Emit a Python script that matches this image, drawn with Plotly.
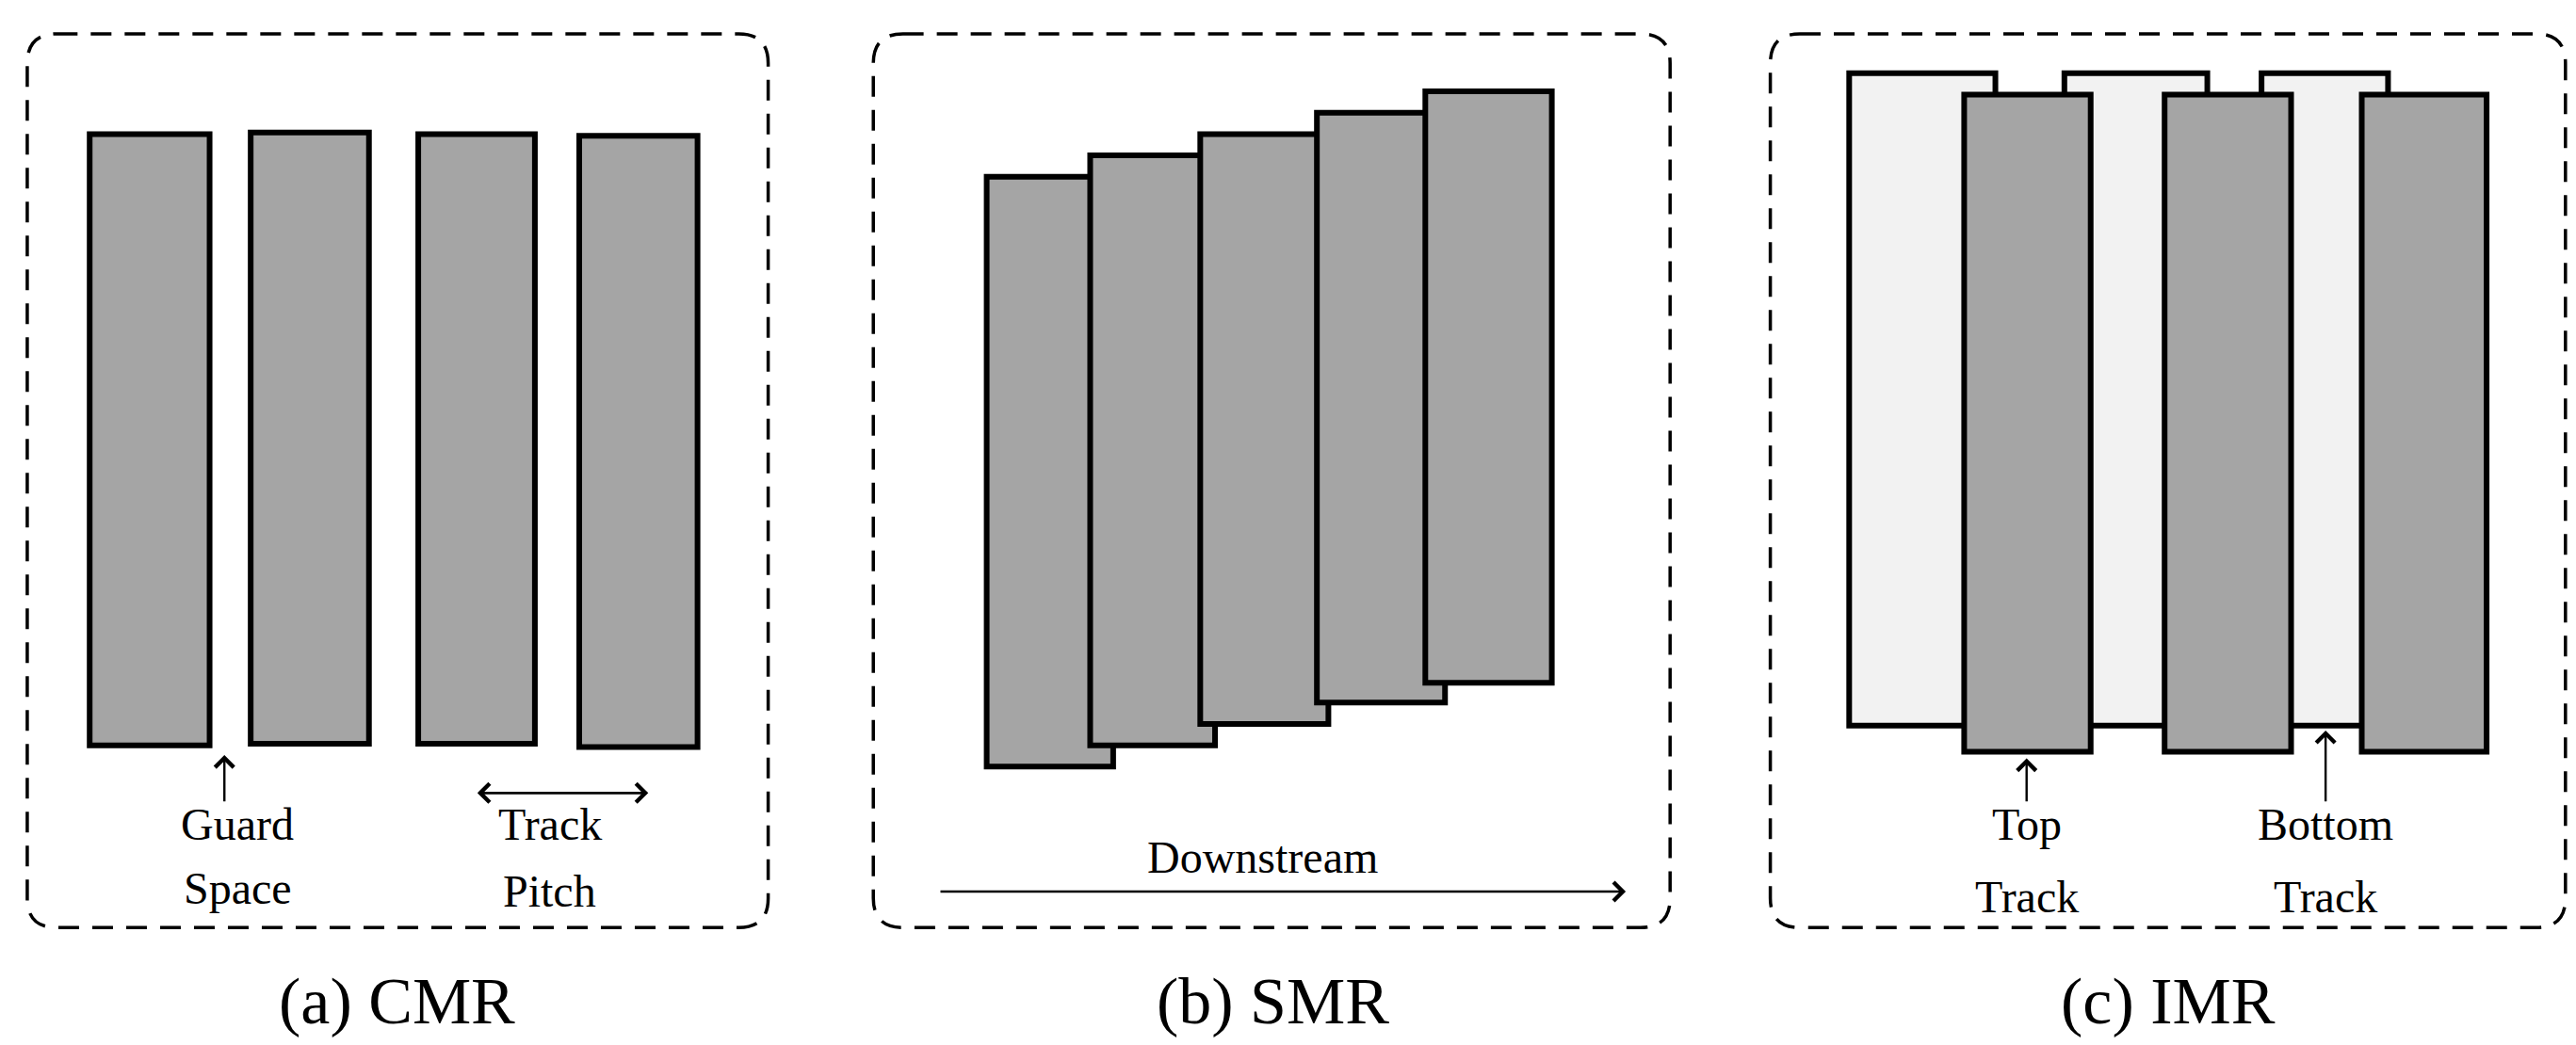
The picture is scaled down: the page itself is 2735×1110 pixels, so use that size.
import plotly.graph_objects as go

W, H = 1568, 636
# panels (x0, x1, y0, y1)
panels = [(12, 463, 16, 560), (527, 1012, 16, 560), (1073, 1557, 16, 560)]
captions = ["(a) CMR", "(b) SMR", "(c) IMR"]
caption_x = [237, 770, 1315]
# CMR tracks
cmr_x0 = [50, 148, 250, 348]
cmr_x1 = [123, 220, 321, 420]
cmr_y0 = [77, 76, 77, 78]
cmr_y1 = [449, 448, 448, 450]
# SMR tracks
smr_x0 = [596, 659, 726, 797, 863]
smr_x1 = [673, 735, 804, 875, 940]
smr_y0 = [103, 90, 77, 64, 51]
smr_y1 = [462, 449, 436, 423, 411]
# IMR bottom (light) and top (dark) tracks
imr_bot_x0 = [1121, 1252, 1372]
imr_bot_x1 = [1210, 1339, 1449]
imr_bot_y = (40, 437)
imr_top_x0 = [1191, 1313, 1433]
imr_top_x1 = [1268, 1390, 1509]
imr_top_y = (53, 453)

GRAY, LIGHT = "#a5a5a5", "#f2f2f2"
shapes = []

def rr(x0, x1, y0, y1, r=18):
    return (f"M{x0+r},{y0} L{x1-r},{y0} Q{x1},{y0} {x1},{y0+r} L{x1},{y1-r} Q{x1},{y1} {x1-r},{y1} "
            f"L{x0+r},{y1} Q{x0},{y1} {x0},{y1-r} L{x0},{y0+r} Q{x0},{y0} {x0+r},{y0} Z")

for p in panels:
    shapes.append(dict(type="path", path=rr(*p), line=dict(color="black", width=3.5, dash="22px,14px")))

def rect(x0, x1, y0, y1, c):
    shapes.append(dict(type="rect", x0=x0, x1=x1, y0=y0, y1=y1, fillcolor=c,
                       line=dict(color="black", width=6)))

for a, b, c, d in zip(cmr_x0, cmr_x1, cmr_y0, cmr_y1):
    rect(a, b, c, d, GRAY)
for a, b, c, d in zip(smr_x0, smr_x1, smr_y0, smr_y1):
    rect(a, b, c, d, GRAY)
for a, b in zip(imr_bot_x0, imr_bot_x1):
    rect(a, b, *imr_bot_y, LIGHT)
for a, b in zip(imr_top_x0, imr_top_x1):
    rect(a, b, *imr_top_y, GRAY)

fig = go.Figure()
fig.update_layout(shapes=shapes)

F = "Liberation Serif"
def arrow(x, y, ax, ay):
    fig.add_annotation(x=x, y=y, ax=ax, ay=ay, xref="x", yref="y", axref="x", ayref="y",
                       showarrow=True, arrowhead=4, arrowsize=1.6, arrowwidth=2.4,
                       arrowcolor="black", text="")

arrow(132, 455, 132, 484)
arrow(286, 478, 390, 478); arrow(390, 478, 286, 478)
arrow(985, 538, 567, 538)
arrow(1229, 457, 1229, 484)
arrow(1411, 440, 1411, 484)

labels = [("Guard", 140, 497), ("Space", 140, 536), ("Track", 330, 497), ("Pitch", 330, 538),
          ("Downstream", 764, 517), ("Top", 1229, 497), ("Track", 1229, 541),
          ("Bottom", 1411, 497), ("Track", 1411, 541)]
for t, x, y in labels:
    fig.add_annotation(x=x, y=y, text=t, showarrow=False, font=dict(family=F, size=48, color="black"))
for t, x in zip(captions, caption_x):
    fig.add_annotation(x=x, y=605, text=t, showarrow=False, font=dict(family=F, size=70, color="black"))

fig.update_xaxes(range=[0, W], visible=False)
fig.update_yaxes(range=[H, 0], visible=False)
fig.update_layout(width=2735, height=1110, margin=dict(l=0, r=0, t=0, b=0),
                  plot_bgcolor="white", paper_bgcolor="white", showlegend=False)
fig.write_html("out.html")
